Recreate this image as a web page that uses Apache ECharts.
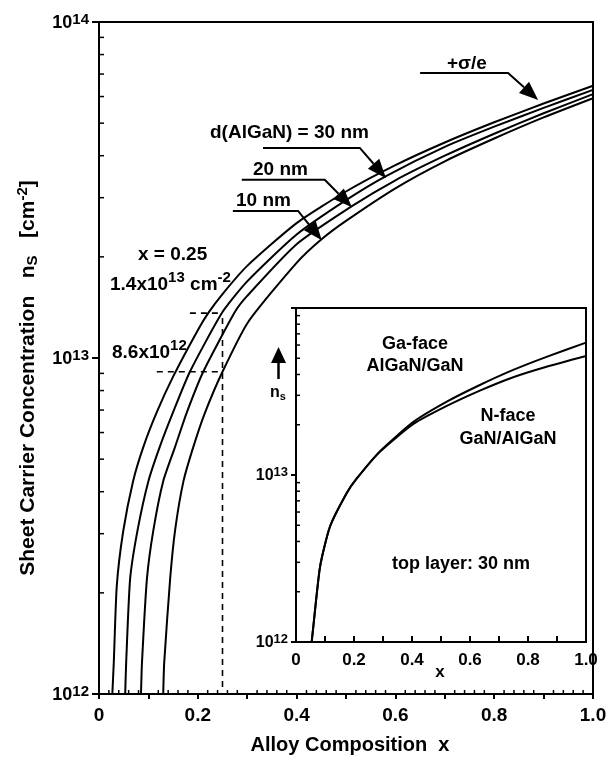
<!DOCTYPE html>
<html>
<head>
<meta charset="utf-8">
<script src="https://cdn.jsdelivr.net/npm/echarts@6/dist/echarts.min.js"></script>
<style>
html,body{margin:0;padding:0;background:#fff;}
#chart{width:611px;height:762px;}
</style>
</head>
<body>
<div id="chart"></div>
<script>
// ---------------- data ----------------
// main plot: sheet carrier concentration vs Al composition x
const sigmaX = [0.027, 0.030, 0.036, 0.049, 0.069, 0.090, 0.117, 0.150, 0.200, 0.221, 0.250, 0.300, 0.400, 0.500, 0.600, 0.700, 0.800, 0.900, 1.000];
const sigmaN = [1.0e12, 1.25e12, 2.1e12, 3.05e12, 4.3e12, 5.45e12, 6.9e12, 8.8e12, 12.1e12, 13.6e12, 15.5e12, 18.8e12, 25.2e12, 31.3e12, 37.5e12, 43.8e12, 50.3e12, 57.2e12, 64.6e12];

const d30X = [0.053, 0.055, 0.063, 0.078, 0.100, 0.123, 0.150, 0.184, 0.250, 0.300, 0.400, 0.500, 0.581, 0.700, 0.800, 0.900, 1.000];
const d30N = [1.0e12, 1.24e12, 2.2e12, 3.07e12, 4.3e12, 5.44e12, 6.9e12, 9.1e12, 13.7e12, 16.9e12, 23.3e12, 29.5e12, 34.8e12, 42.5e12, 48.8e12, 55.5e12, 62.8e12];

const d20X = [0.085, 0.087, 0.097, 0.110, 0.130, 0.154, 0.178, 0.211, 0.275, 0.300, 0.400, 0.512, 0.600, 0.700, 0.800, 0.900, 1.000];
const d20N = [1.0e12, 1.24e12, 2.2e12, 3.07e12, 4.3e12, 5.44e12, 6.9e12, 9.1e12, 13.7e12, 15.3e12, 21.8e12, 28.3e12, 33.8e12, 40.0e12, 46.5e12, 53.5e12, 61.0e12];

const d10X = [0.130, 0.132, 0.144, 0.154, 0.171, 0.191, 0.215, 0.250, 0.302, 0.400, 0.451, 0.500, 0.600, 0.700, 0.800, 0.900, 1.000];
const d10N = [1.0e12, 1.24e12, 2.2e12, 3.07e12, 4.3e12, 5.44e12, 6.9e12, 9.1e12, 12.8e12, 19.2e12, 22.6e12, 25.6e12, 32.0e12, 38.5e12, 45.0e12, 52.0e12, 59.3e12];

// inset: Ga-face vs N-face, top layer 30 nm
const insetX = [0.054, 0.060, 0.083, 0.117, 0.175, 0.209, 0.290, 0.405, 0.520, 0.634, 0.749, 0.864, 1.000];
const gaFaceN = [1.0e12, 1.25e12, 2.83e12, 4.9e12, 7.8e12, 9.5e12, 13.9e12, 20.8e12, 27.5e12, 34.6e12, 42.6e12, 51.0e12, 62.0e12];
const nFaceN  = [1.0e12, 1.25e12, 2.83e12, 4.9e12, 7.8e12, 9.5e12, 13.8e12, 20.2e12, 25.9e12, 32.0e12, 38.5e12, 44.5e12, 51.6e12];

// dashed guide at x = 0.25
const guideX = 0.25;
const guideHigh = 1.36e13;
const guideLow = 9.1e12;
const guideHighStartX = 0.184;
const guideLowStartX = 0.117;
const guideBottom = 1.05e12;

// annotation arrows: [x1, n1, x2, n2, tipX, tipN]
const arrowSigma = [0.650, 7.05e13, 0.828, 7.05e13, 0.889, 5.86e13];
const arrow30 = [0.332, 4.22e13, 0.528, 4.22e13, 0.581, 3.43e13];
const arrow20 = [0.289, 3.39e13, 0.457, 3.39e13, 0.512, 2.81e13];
const arrow10 = [0.271, 2.74e13, 0.403, 2.74e13, 0.451, 2.24e13];

// axis ticks
const xTickLabels = ['0', '0.2', '0.4', '0.6', '0.8', '1.0'];
const xMinorTicks = [];
for (let i = 1; i < 50; i++) { if (i % 5 !== 0) xMinorTicks.push(i * 0.02); }
const yMinorMultipliers = [2, 3, 4, 5, 6, 7, 8, 9];

// ---------------- chart ----------------
const FONT = "'Liberation Sans', Arial, Helvetica, sans-serif";
const zip = (a, b) => a.map((v, i) => [v, b[i]]);
const yMinorValues = [];
[12, 13].forEach(d => yMinorMultipliers.forEach(m => yMinorValues.push(m * Math.pow(10, d))));

function xLabel(v) {
  const r = Math.round(v * 10);
  if (r % 2 !== 0) return '';
  return xTickLabels[r / 2];
}
function yLabelMain(v) {
  const e = Math.round(Math.log10(v));
  return '{b|10}{s|' + e + '}';
}
function yLabelInset(v) {
  const e = Math.round(Math.log10(v));
  if (e === 14) return '';
  return '{b|10}{s|' + e + '}';
}

function tickSeries(xi, yi, data, dir, len) {
  return {
    type: 'custom', xAxisIndex: xi, yAxisIndex: yi, silent: true, z: 5,
    data: data,
    renderItem: function (params, api) {
      const p = api.coord([api.value(0), api.value(1)]);
      const p2 = dir === 'right' ? [p[0] + len, p[1]] : [p[0], p[1] - len];
      return { type: 'line', shape: { x1: p[0], y1: p[1], x2: p2[0], y2: p2[1] }, style: { stroke: '#000', lineWidth: 1.5 } };
    }
  };
}

function arrowSeries(data) {
  return {
    type: 'custom', xAxisIndex: 0, yAxisIndex: 0, silent: true, z: 6,
    data: [data],
    encode: { x: [0, 2, 4], y: [1, 3, 5] },
    renderItem: function (params, api) {
      const a = api.coord([api.value(0), api.value(1)]);
      const b = api.coord([api.value(2), api.value(3)]);
      const c = api.coord([api.value(4), api.value(5)]);
      const dx = c[0] - b[0], dy = c[1] - b[1];
      const L = Math.sqrt(dx * dx + dy * dy);
      const ux = dx / L, uy = dy / L;
      const HL = 19, HW = 7.5;
      const base = [c[0] - ux * HL, c[1] - uy * HL];
      const l = [base[0] - uy * HW, base[1] + ux * HW];
      const r = [base[0] + uy * HW, base[1] - ux * HW];
      return {
        type: 'group',
        children: [
          { type: 'polyline', shape: { points: [a, b, base] }, style: { stroke: '#000', lineWidth: 2, fill: null } },
          { type: 'polygon', shape: { points: [c, l, r] }, style: { fill: '#000' } }
        ]
      };
    }
  };
}

function curve(xi, yi, xs, ns) {
  return {
    type: 'line', xAxisIndex: xi, yAxisIndex: yi, data: zip(xs, ns),
    showSymbol: false, smooth: 0.2,
    lineStyle: { color: '#000', width: 2 }, silent: true, z: 4
  };
}

function dashed(pts) {
  return {
    type: 'line', xAxisIndex: 0, yAxisIndex: 0, data: pts, showSymbol: false, silent: true,
    lineStyle: { color: '#000', width: 1.6, type: [6, 5] }, z: 3
  };
}

const supRich = {
  b: { fontFamily: FONT, fontWeight: 'bold', fontSize: 18, color: '#000', lineHeight: 20, verticalAlign: 'bottom' },
  s: { fontFamily: FONT, fontWeight: 'bold', fontSize: 15, color: '#000', lineHeight: 16, verticalAlign: 'top', padding: [0, 0, 14, 0] }
};
const supRichSmall = {
  b: { fontFamily: FONT, fontWeight: 'bold', fontSize: 16, color: '#000', lineHeight: 18, verticalAlign: 'bottom' },
  s: { fontFamily: FONT, fontWeight: 'bold', fontSize: 13, color: '#000', lineHeight: 14, verticalAlign: 'top', padding: [0, 0, 12, 0] }
};

const txtStyle = (size) => ({ fontFamily: FONT, fontWeight: 'bold', fontSize: size, fill: '#000' });

const chart = echarts.init(document.getElementById('chart'), null, { renderer: 'canvas' });
chart.setOption({
  animation: false,
  backgroundColor: '#fff',
  grid: [
    { left: 99, top: 22, width: 494, height: 672, show: true, borderColor: '#000', borderWidth: 2, backgroundColor: 'transparent' },
    { left: 296, top: 308, width: 290, height: 334, show: true, borderColor: '#000', borderWidth: 2, backgroundColor: '#fff' }
  ],
  xAxis: [
    {
      type: 'value', gridIndex: 0, min: 0, max: 1, interval: 0.1,
      axisLine: { lineStyle: { color: '#000', width: 2 } },
      axisTick: { show: true, inside: false, length: 5, lineStyle: { color: '#000', width: 2 } },
      axisLabel: { formatter: xLabel, margin: 12, color: '#000', fontFamily: FONT, fontWeight: 'bold', fontSize: 19 },
      splitLine: { show: false }
    },
    {
      type: 'value', gridIndex: 1, min: 0, max: 1, interval: 0.1,
      axisLine: { lineStyle: { color: '#000', width: 2 } },
      axisTick: { show: true, inside: true, length: 6, lineStyle: { color: '#000', width: 2 } },
      axisLabel: { formatter: xLabel, margin: 10, color: '#000', fontFamily: FONT, fontWeight: 'bold', fontSize: 17 },
      splitLine: { show: false }
    }
  ],
  yAxis: [
    {
      type: 'log', logBase: 10, gridIndex: 0, min: 1e12, max: 1e14,
      axisLine: { lineStyle: { color: '#000', width: 2 } },
      axisTick: { show: true, inside: false, length: 7, lineStyle: { color: '#000', width: 2 } },
      axisLabel: { formatter: yLabelMain, margin: 10, rich: supRich },
      splitLine: { show: false }
    },
    {
      type: 'log', logBase: 10, gridIndex: 1, min: 1e12, max: 1e14,
      axisLine: { lineStyle: { color: '#000', width: 2 } },
      axisTick: { show: true, inside: false, length: 5, lineStyle: { color: '#000', width: 2 } },
      axisLabel: { formatter: yLabelInset, margin: 8, rich: supRichSmall },
      splitLine: { show: false }
    }
  ],
  series: [
    curve(0, 0, sigmaX, sigmaN),
    curve(0, 0, d30X, d30N),
    curve(0, 0, d20X, d20N),
    curve(0, 0, d10X, d10N),
    curve(1, 1, insetX, gaFaceN),
    curve(1, 1, insetX, nFaceN),
    dashed([[guideX, guideBottom], [guideX, guideHigh]]),
    dashed([[guideHighStartX, guideHigh], [guideX, guideHigh]]),
    dashed([[guideLowStartX, guideLow], [guideX, guideLow]]),
    arrowSeries(arrowSigma),
    arrowSeries(arrow30),
    arrowSeries(arrow20),
    arrowSeries(arrow10),
    tickSeries(0, 0, yMinorValues.map(v => [0, v]), 'right', 5),
    tickSeries(0, 0, xMinorTicks.map(v => [v, 1e12]), 'up', 4),
    tickSeries(1, 1, yMinorValues.map(v => [0, v]), 'right', 4)
  ],
  graphic: [
    { type: 'text', x: 28, y: 378, rotation: Math.PI / 2, style: { text: 'Sheet Carrier Concentration   n{sub|S}   [cm{sup|-2}]', align: 'center', verticalAlign: 'middle', fontFamily: FONT, fontWeight: 'bold', fontSize: 21, fill: '#000',
      rich: { sub: { fontFamily: FONT, fontWeight: 'bold', fontSize: 15, padding: [9, 0, 0, 0] }, sup: { fontFamily: FONT, fontWeight: 'bold', fontSize: 15, padding: [0, 0, 11, 0] } } } },
    { type: 'text', x: 350, y: 735, style: Object.assign({ text: 'Alloy Composition  x', align: 'center' }, txtStyle(20)) },
    { type: 'text', x: 447, y: 54, style: Object.assign({ text: '+σ/e' }, txtStyle(19)) },
    { type: 'text', x: 210, y: 123, style: Object.assign({ text: 'd(AlGaN) = 30 nm' }, txtStyle(19)) },
    { type: 'text', x: 253, y: 160, style: Object.assign({ text: '20 nm' }, txtStyle(19)) },
    { type: 'text', x: 236, y: 191, style: Object.assign({ text: '10 nm' }, txtStyle(19)) },
    { type: 'text', x: 138, y: 245, style: Object.assign({ text: 'x = 0.25' }, txtStyle(19)) },
    { type: 'text', x: 110, y: 270, style: Object.assign({ text: '1.4x10{sup|13} cm{sup|-2}',
      rich: { sup: { fontFamily: FONT, fontWeight: 'bold', fontSize: 15, padding: [0, 0, 14, 0] } } }, txtStyle(19)) },
    { type: 'text', x: 112, y: 338, style: Object.assign({ text: '8.6x10{sup|12}',
      rich: { sup: { fontFamily: FONT, fontWeight: 'bold', fontSize: 15, padding: [0, 0, 14, 0] } } }, txtStyle(19)) },
    { type: 'text', x: 415, y: 335, style: Object.assign({ text: 'Ga-face', align: 'center' }, txtStyle(18)) },
    { type: 'text', x: 415, y: 357, style: Object.assign({ text: 'AlGaN/GaN', align: 'center' }, txtStyle(18)) },
    { type: 'text', x: 508, y: 407, style: Object.assign({ text: 'N-face', align: 'center' }, txtStyle(18)) },
    { type: 'text', x: 508, y: 430, style: Object.assign({ text: 'GaN/AlGaN', align: 'center' }, txtStyle(18)) },
    { type: 'text', x: 392, y: 555, style: Object.assign({ text: 'top layer: 30 nm' }, txtStyle(18)) },
    { type: 'text', x: 440, y: 664, style: Object.assign({ text: 'x', align: 'center' }, txtStyle(17)) },
    { type: 'text', x: 270, y: 384, style: Object.assign({ text: 'n{sub|s}',
      rich: { sub: { fontFamily: FONT, fontWeight: 'bold', fontSize: 11, padding: [7, 0, 0, 0] } } }, txtStyle(16)) },
    { type: 'polygon', shape: { points: [[271, 363], [286, 363], [278.5, 347]] }, style: { fill: '#000' } },
    { type: 'line', shape: { x1: 278.5, y1: 362, x2: 278.5, y2: 379 }, style: { stroke: '#000', lineWidth: 2.5 } }
  ]
});
</script>
</body>
</html>
